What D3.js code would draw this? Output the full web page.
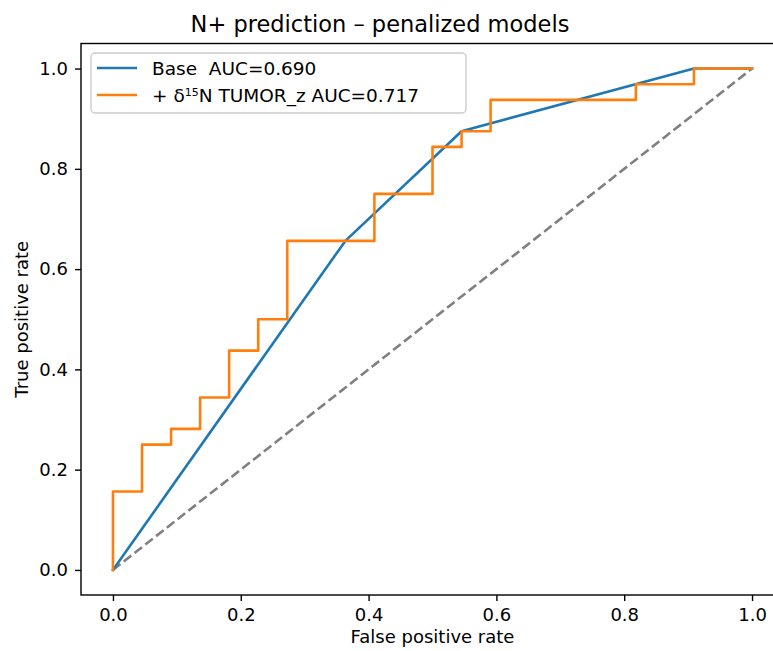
<!DOCTYPE html>
<html>
<head>
<meta charset="utf-8">
<script src="https://cdn.jsdelivr.net/npm/d3@7"></script>
<style>
  html, body { margin: 0; padding: 0; background: #fff; }
  svg { display: block; }
  text { font-family: "DejaVu Sans", sans-serif; fill: #000; white-space: pre; }
</style>
</head>
<body>
<svg id="chart" width="773" height="651"></svg>
<script>
// ---- data ----
const title = "N+ prediction \u2013 penalized models";
const xLabel = "False positive rate";
const yLabel = "True positive rate";
const tickValues = [0.0, 0.2, 0.4, 0.6, 0.8, 1.0];

const baseName = "Base  AUC=0.690";
const baseFpr = [0, 0.3636, 0.5455, 0.9091, 1.0];
const baseTpr = [0, 0.6563, 0.875, 1.0, 1.0];

const isoName = "TUMOR_z AUC=0.717";
const isoFpr = [0, 0, 0.0455, 0.0455, 0.0909, 0.0909, 0.1364, 0.1364, 0.1818, 0.1818,
  0.2273, 0.2273, 0.2727, 0.2727, 0.4091, 0.4091, 0.5, 0.5, 0.5455, 0.5455,
  0.5909, 0.5909, 0.8182, 0.8182, 0.9091, 0.9091, 1.0];
const isoTpr = [0, 0.1563, 0.1563, 0.25, 0.25, 0.2813, 0.2813, 0.3438, 0.3438, 0.4375,
  0.4375, 0.5, 0.5, 0.6563, 0.6563, 0.75, 0.75, 0.8438, 0.8438, 0.875,
  0.875, 0.9375, 0.9375, 0.9688, 0.9688, 1.0, 1.0];

const chanceFpr = [0, 1];
const chanceTpr = [0, 1];

// ---- layout ----
const svg = d3.select("#chart");
const L = 81, R = 784, T = 43.5, B = 595;
const x = d3.scaleLinear().domain([-0.05, 1.05]).range([L, R]);
const y = d3.scaleLinear().domain([-0.05, 1.05]).range([B, T]);

svg.append("defs").append("clipPath").attr("id", "plotclip")
  .append("rect").attr("x", L).attr("y", T).attr("width", R - L).attr("height", B - T);

const line = d3.line().x(d => x(d[0])).y(d => y(d[1]));
const plot = svg.append("g").attr("clip-path", "url(#plotclip)");
const LW = 2.6;

plot.append("path")
  .attr("d", line(d3.zip(chanceFpr, chanceTpr)))
  .attr("fill", "none").attr("stroke", "#808080")
  .attr("stroke-width", LW).attr("stroke-dasharray", "9.5,4.2");

plot.append("path")
  .attr("d", line(d3.zip(baseFpr, baseTpr)))
  .attr("fill", "none").attr("stroke", "#1f77b4")
  .attr("stroke-width", LW).attr("stroke-linejoin", "round").attr("stroke-linecap", "square");

plot.append("path")
  .attr("d", line(d3.zip(isoFpr, isoTpr)))
  .attr("fill", "none").attr("stroke", "#ff7f0e")
  .attr("stroke-width", LW).attr("stroke-linejoin", "round").attr("stroke-linecap", "square");

// ---- axes ----
const FS = 18;
const fmt = d3.format(".1f");
const xAxis = svg.append("g").attr("transform", `translate(0,${B})`)
  .call(d3.axisBottom(x).tickValues(tickValues).tickFormat(fmt).tickSize(6).tickPadding(6).tickSizeOuter(0));
const yAxis = svg.append("g").attr("transform", `translate(${L},0)`)
  .call(d3.axisLeft(y).tickValues(tickValues).tickFormat(fmt).tickSize(6).tickPadding(7).tickSizeOuter(0));
[xAxis, yAxis].forEach(g => {
  g.select(".domain").remove();
  g.selectAll(".tick line").attr("stroke", "#000").attr("stroke-width", 1.4);
  g.selectAll(".tick text").attr("font-size", FS).attr("font-family", "DejaVu Sans, sans-serif").attr("fill", "#000");
});
xAxis.selectAll(".tick text").attr("dy", "0.8em");

// spines
svg.append("rect").attr("x", L).attr("y", T).attr("width", R - L).attr("height", B - T)
  .attr("fill", "none").attr("stroke", "#000").attr("stroke-width", 1.4);

// labels
svg.append("text").attr("x", 380).attr("y", 32).attr("text-anchor", "middle")
  .attr("font-size", 22.5).text(title);
svg.append("text").attr("x", (L + R) / 2).attr("y", 643).attr("text-anchor", "middle")
  .attr("font-size", FS).text(xLabel);
svg.append("text").attr("transform", `translate(28,${(T + B) / 2}) rotate(-90)`)
  .attr("text-anchor", "middle").attr("font-size", FS).text(yLabel);

// ---- legend ----
const lg = svg.append("g");
lg.append("rect").attr("x", 91).attr("y", 53).attr("width", 375).attr("height", 60)
  .attr("rx", 4).attr("fill", "#fff").attr("fill-opacity", 0.8)
  .attr("stroke", "#cccccc").attr("stroke-width", 1.4);
const items = [
  { color: "#1f77b4", yy: 68 },
  { color: "#ff7f0e", yy: 95 }
];
items.forEach(it => {
  lg.append("line").attr("x1", 97).attr("x2", 137).attr("y1", it.yy).attr("y2", it.yy)
    .attr("stroke", it.color).attr("stroke-width", LW);
});
const LFS = 18.5;
lg.append("text").attr("x", 152).attr("y", 74.5).attr("font-size", LFS).text(baseName);
const t2 = lg.append("text").attr("x", 152).attr("y", 101.5).attr("font-size", LFS);
t2.append("tspan").text("+ \u03b4");
t2.append("tspan").attr("font-size", 11).attr("dy", -6).text("15");
t2.append("tspan").attr("dy", 6).text("N " + isoName);
</script>
</body>
</html>
